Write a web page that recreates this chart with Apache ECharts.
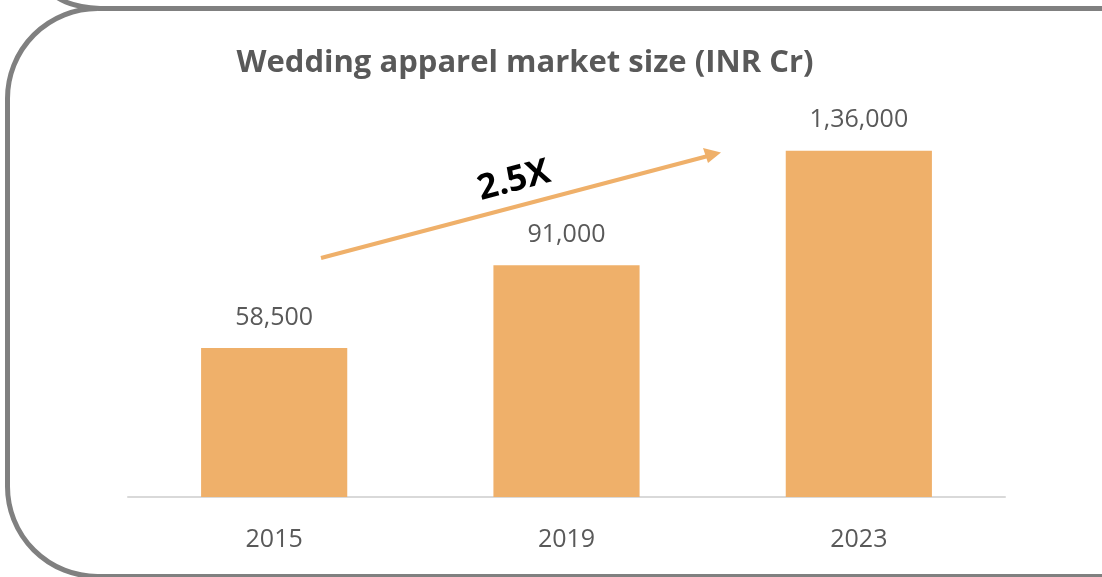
<!DOCTYPE html>
<html>
<head>
<meta charset="utf-8">
<script src="https://cdn.jsdelivr.net/npm/echarts@6/dist/echarts.min.js"></script>
<style>
    html, body { margin: 0; padding: 0; background: #fff; }
    #main { width: 1102px; height: 577px; }
</style>
</head>
<body>
<div id="main"></div>
<script>
var years = ['2015', '2019', '2023'];
var marketSize = [58500, 91000, 136000];
var labelText = ['58,500', '91,000', '1,36,000'];

var myChart = echarts.init(document.getElementById('main'));

var option = {
    backgroundColor: '#fff',
    textStyle: {
        fontFamily: 'Open Sans'
    },
    title: {
        text: 'Wedding apparel market size (INR Cr)',
        left: 520,
        textAlign: 'center',
        top: 43,
        textStyle: {
            fontSize: 31,
            fontWeight: 'bold',
            color: '#595959',
            fontFamily: 'Open Sans'
        }
    },
    grid: {
        left: 128,
        right: 97,
        top: 115,
        bottom: 80
    },
    xAxis: {
        type: 'category',
        data: years,
        axisLine: { lineStyle: { color: '#d9d9d9', width: 2 } },
        axisTick: { show: false },
        axisLabel: {
            color: '#595959',
            fontSize: 25,
            margin: 30
        }
    },
    yAxis: {
        type: 'value',
        min: 0,
        max: 150000,
        show: false,
        splitLine: { show: false }
    },
    series: [
        {
            type: 'bar',
            data: marketSize,
            barWidth: '50%',
            itemStyle: { color: '#EFB06A' },
            label: {
                show: true,
                position: 'top',
                distance: 18,
                fontSize: 25,
                color: '#595959',
                formatter: function (p) {
                    return labelText[p.dataIndex];
                }
            }
        }
    ],
    graphic: [
        // outer rounded frame
        {
            type: 'rect',
            shape: { x: 7.5, y: 8.5, width: 1300, height: 568, r: 90 },
            style: { fill: 'none', stroke: '#808080', lineWidth: 5 },
            silent: true
        },
        {
            type: 'bezierCurve',
            shape: { x1: 58, y1: -2, cpx1: 72, cpy1: 7, x2: 100, y2: 8.5 },
            style: { fill: 'none', stroke: '#808080', lineWidth: 5 },
            silent: true
        },
        // growth arrow
        {
            type: 'line',
            shape: { x1: 321, y1: 258, x2: 708, y2: 156 },
            style: { stroke: '#EFB06A', lineWidth: 4 },
            silent: true
        },
        {
            type: 'polygon',
            shape: { points: [[721, 152.5], [703, 148], [708, 163]] },
            style: { fill: '#EFB06A' },
            silent: true
        },
        {
            type: 'text',
            x: 514,
            y: 181,
            rotation: 14.7 * Math.PI / 180,
            style: {
                text: '2.5X',
                fontSize: 35,
                fontWeight: 'bold',
                fill: '#000',
                fontFamily: 'Open Sans',
                align: 'center',
                verticalAlign: 'middle'
            }
        }
    ]
};

myChart.setOption(option);
</script>
</body>
</html>
